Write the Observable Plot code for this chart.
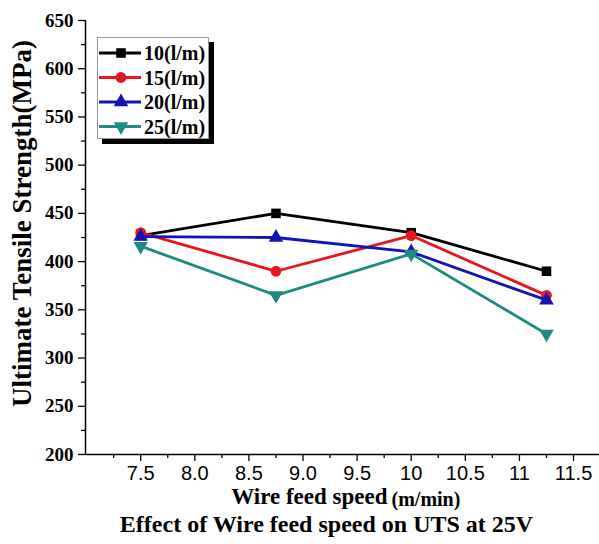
<!DOCTYPE html>
<html>
<head>
<meta charset="utf-8">
<script src="https://cdn.jsdelivr.net/npm/d3@7"></script>
<script src="https://cdn.jsdelivr.net/npm/@observablehq/plot@0.6"></script>
<style>
  body { margin: 0; background: #fff; }
  #wrap { position: relative; width: 599px; height: 544px; }
  #legend { position: absolute; left: 97px; top: 37px; width: 110px; height: 100px;
    border: 1px solid #999; box-shadow: 5px 5px 0 #000; background: #fff; }
</style>
</head>
<body>
<div id="wrap"></div>
<script>
const speeds = [7.5, 8.75, 10, 11.25];
const seriesNames = ["10(l/m)", "15(l/m)", "20(l/m)", "25(l/m)"];
const s10 = [427, 450, 430, 390];
const s15 = [430, 390, 427, 365];
const s20 = [426, 425, 410, 360];
const s25 = [416, 365, 408, 325];
const seriesValues = [s10, s15, s20, s25];
const colors = ["#000000", "#e8161c", "#1414b4", "#1f8a80"];
const symbols = ["square", "circle", "triangle", "triangle"];
const rotations = [0, 0, 0, 180];
const xTicks = [7.5, 8.0, 8.5, 9.0, 9.5, 10, 10.5, 11, 11.5];
const xTickLabels = ["7.5", "8.0", "8.5", "9.0", "9.5", "10", "10.5", "11", "11.5"];
const xMinor = [7.25, 7.75, 8.25, 8.75, 9.25, 9.75, 10.25, 10.75, 11.25];
const yTicks = [200, 250, 300, 350, 400, 450, 500, 550, 600, 650];
const yMinor = [225, 275, 325, 375, 425, 475, 525, 575, 625];

const rows = [];
seriesNames.forEach((name, i) => {
  speeds.forEach((s, j) => rows.push({series: name, idx: i, x: s, y: seriesValues[i][j]}));
});

const serif = "'Liberation Serif', 'Times New Roman', serif";
const sans = "'Liberation Sans', Arial, sans-serif";

const marks = [];
seriesNames.forEach((name, i) => {
  const d = rows.filter(r => r.idx === i);
  marks.push(Plot.line(d, {x: "x", y: "y", stroke: colors[i], strokeWidth: 2.8}));
  marks.push(Plot.dot(d, {x: "x", y: "y", fill: colors[i], stroke: "none", symbol: symbols[i], r: 5.4, rotate: rotations[i]}));
});

const chart = Plot.plot({
  width: 599,
  height: 544,
  marginLeft: 85,
  marginRight: 0,
  marginTop: 20,
  marginBottom: 90,
  style: {background: "#fff", overflow: "visible"},
  x: {domain: [6.99, 11.74]},
  y: {domain: [200, 650]},
  marks: [
    Plot.axisX({ticks: xTicks, tickFormat: (d) => xTickLabels[xTicks.indexOf(d)], tickSize: 7, tickPadding: 4,
      fontSize: 20, fontFamily: sans, fill: "#000", stroke: "#000", strokeWidth: 1.3, label: null}),
    Plot.axisX({ticks: xMinor, tickFormat: () => "", tickSize: 4, stroke: "#000", strokeWidth: 1.3, label: null}),
    Plot.axisY({ticks: yTicks, tickSize: 7, tickPadding: 5, fontSize: 19, fontFamily: serif, fontWeight: "bold",
      fill: "#000", stroke: "#000", strokeWidth: 1.3, label: null}),
    Plot.axisY({ticks: yMinor, tickFormat: () => "", tickSize: 4, stroke: "#000", strokeWidth: 1.3, label: null}),
    Plot.ruleX([6.99], {stroke: "#000", strokeWidth: 1.5}),
    Plot.ruleY([200], {stroke: "#000", strokeWidth: 1.5}),
    ...marks,
    Plot.text(["Ultimate Tensile Strength(MPa)"], {frameAnchor: "left", textAnchor: "middle", dx: -63, dy: -14, rotate: -90,
      fontSize: 27, fontFamily: serif, fontWeight: "bold", fill: "#000"}),
    Plot.text(["Wire feed speed"], {frameAnchor: "bottom", textAnchor: "end", dx: 45, dy: 49, fontSize: 23,
      fontFamily: serif, fontWeight: "bold", fill: "#000"}),
    Plot.text(["(m/min)"], {frameAnchor: "bottom", textAnchor: "start", dx: 49, dy: 51, fontSize: 20,
      fontFamily: serif, fontWeight: "bold", fill: "#000"}),
    Plot.text(["Effect of Wire feed speed on UTS at 25V"], {frameAnchor: "bottom", dx: -16, dy: 77, fontSize: 24,
      fontFamily: serif, fontWeight: "bold", fill: "#000"})
  ]
});

const wrap = document.getElementById("wrap");
wrap.appendChild(chart);

// Legend
const legend = document.createElement("div");
legend.id = "legend";
const ns = "http://www.w3.org/2000/svg";
const lsvg = document.createElementNS(ns, "svg");
lsvg.setAttribute("width", 110);
lsvg.setAttribute("height", 100);
const sym = {square: d3.symbolSquare, circle: d3.symbolCircle, triangle: d3.symbolTriangle};
seriesNames.forEach((name, i) => {
  const cy = 15 + i * 24.5;
  const line = document.createElementNS(ns, "line");
  line.setAttribute("x1", 1); line.setAttribute("x2", 43);
  line.setAttribute("y1", cy); line.setAttribute("y2", cy);
  line.setAttribute("stroke", colors[i]); line.setAttribute("stroke-width", 2.8);
  lsvg.appendChild(line);
  const p = document.createElementNS(ns, "path");
  p.setAttribute("d", d3.symbol(sym[symbols[i]], Math.PI * 5.4 * 5.4)());
  p.setAttribute("transform", `translate(23,${cy}) rotate(${rotations[i]})`);
  p.setAttribute("fill", colors[i]);
  lsvg.appendChild(p);
  const t = document.createElementNS(ns, "text");
  t.setAttribute("x", 46); t.setAttribute("y", cy);
  t.setAttribute("dy", "0.35em");
  t.setAttribute("font-family", serif);
  t.setAttribute("font-weight", "bold");
  t.setAttribute("font-size", 20);
  t.textContent = name;
  lsvg.appendChild(t);
});
legend.appendChild(lsvg);
wrap.appendChild(legend);
</script>
</body>
</html>
